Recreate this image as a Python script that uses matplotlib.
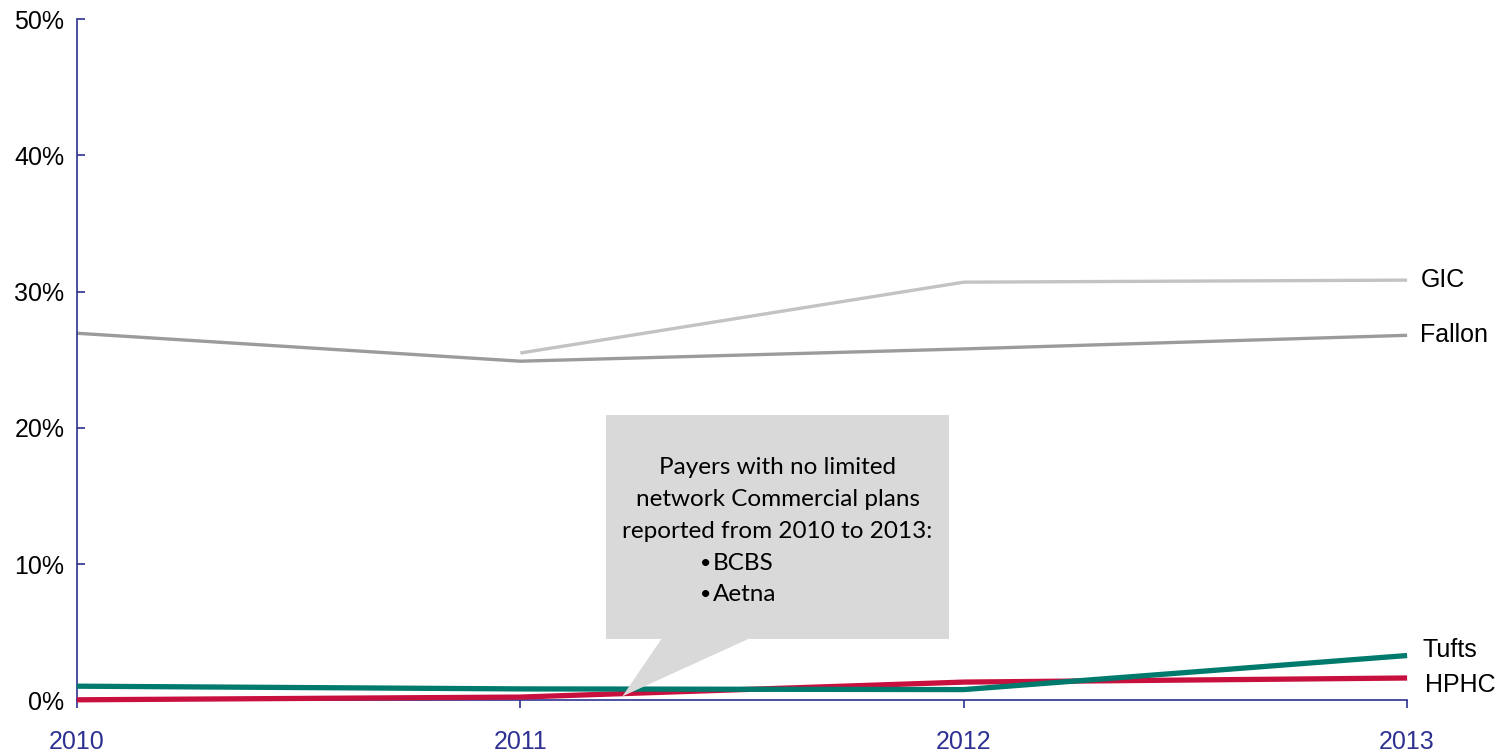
import matplotlib
matplotlib.use("Agg")
import matplotlib.pyplot as plt
from matplotlib.patches import Polygon, Rectangle
from matplotlib.ticker import FuncFormatter

years = [2010, 2011, 2012, 2013]
fallon = [26.95, 24.9, 25.8, 26.8]
gic_years = [2011, 2012, 2013]
gic = [25.5, 30.7, 30.85]
tufts = [1.05, 0.85, 0.8, 3.3]
hphc = [0.05, 0.25, 1.35, 1.65]

callout_lines = ["Payers with no limited",
                 "network Commercial plans",
                 "reported from 2010 to 2013:"]
callout_bullets = ["BCBS", "Aetna"]

axis_blue = "#2E3192"
plt.rcParams["font.family"] = ["Liberation Sans", "DejaVu Sans"]

fig = plt.figure(figsize=(15.03, 7.52), dpi=100)
ax = fig.add_axes([0.0512, 0.0685, 0.885, 0.906])

ax.plot(years, fallon, color="#9B9B9B", lw=2.4, clip_on=False, solid_capstyle="butt")
ax.plot(gic_years, gic, color="#C3C3C3", lw=2.4, clip_on=False, solid_capstyle="butt")
ax.plot(years, tufts, color="#007A6C", lw=3.8, clip_on=False, solid_capstyle="butt", zorder=4)
ax.plot(years, hphc, color="#C8103E", lw=3.8, clip_on=False, solid_capstyle="butt", zorder=3)

ax.set_xlim(2010, 2013)
ax.set_ylim(0, 50)
ax.set_xticks(years)
ax.set_yticks(range(0, 51, 10))
ax.yaxis.set_major_formatter(FuncFormatter(lambda v, p: f"{v:.0f}%"))

for s in ["top", "right"]:
    ax.spines[s].set_visible(False)
for s in ["left", "bottom"]:
    ax.spines[s].set_color(axis_blue)
    ax.spines[s].set_linewidth(1.2)
ax.tick_params(axis="y", direction="in", length=6, width=1.2, color=axis_blue,
               labelsize=18, pad=9, labelcolor="black")
ax.tick_params(axis="x", direction="out", length=6, width=1.2, color=axis_blue,
               labelsize=18, pad=15, labelcolor=axis_blue)

# series labels at right
lab = dict(fontsize=18, va="center", ha="left", clip_on=False)
ax.text(2013.03, 30.85, "GIC", **lab)
ax.text(2013.03, 26.8, "Fallon", **lab)
ax.text(2013.035, 3.7, "Tufts", **lab)
ax.text(2013.04, 1.1, "HPHC", **lab)

# callout
box_color = "#D9D9D9"
ax.add_patch(Rectangle((2011.193, 4.5), 0.774, 16.45, facecolor=box_color,
                       edgecolor="none", zorder=5))
ax.add_patch(Polygon([(2011.32, 4.6), (2011.52, 4.6), (2011.23, 0.3)],
                     closed=True, facecolor=box_color, edgecolor="none", zorder=5))
cx = 2011.58
tkw = dict(fontsize=17.5, family=["Lato", "DejaVu Sans"], zorder=6, va="center")
for i, line in enumerate(callout_lines):
    ax.text(cx, 17.1 - 2.35 * i, line, ha="center", **tkw)
for i, word in enumerate(callout_bullets):
    y = 10.05 - 2.3 * i
    ax.text(2011.405, y, "•", ha="left", fontsize=14, zorder=6, va="center",
            family=["Lato", "DejaVu Sans"])
    ax.text(2011.434, y, word, ha="left", **tkw)

fig.savefig("out.png", dpi=100)
